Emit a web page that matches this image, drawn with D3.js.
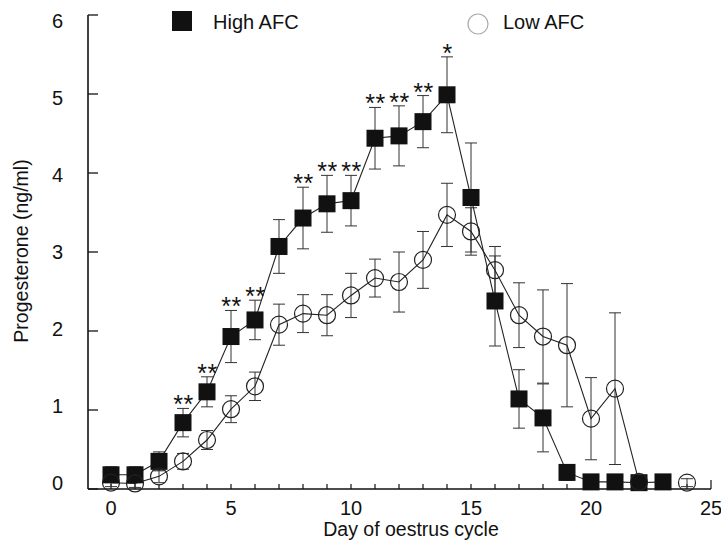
<!DOCTYPE html>
<html>
<head>
<meta charset="utf-8">
<script src="https://cdn.jsdelivr.net/npm/d3@7"></script>
<style>
	body { margin: 0; background: #fff; }
	text { font-family: "Liberation Sans", Arial, sans-serif; fill: #111; }
</style>
</head>
<body>
<svg id="chart" width="721" height="554"></svg>
<script>
// data (mean +/- sem)
var highDays = [0,1,2,3,4,5,6,7,8,9,10,11,12,13,14,15,16,17,18,19,20,21,22,23];
var highMean = [0.18,0.18,0.35,0.84,1.23,1.93,2.14,3.07,3.43,3.61,3.65,4.44,4.47,4.65,4.99,3.69,2.38,1.14,0.9,0.21,0.09,0.09,0.08,0.09];
var highSem  = [0.1,0.1,0.12,0.18,0.19,0.33,0.25,0.34,0.39,0.36,0.32,0.39,0.38,0.33,0.48,0.69,0.57,0.37,0.43,0.1,0.05,0.05,0.05,0.05];

var lowDays = [0,1,2,3,4,5,6,7,8,9,10,11,12,13,14,15,16,17,18,19,20,21,22,24];
var lowMean = [0.08,0.07,0.16,0.35,0.62,1.01,1.3,2.08,2.22,2.2,2.45,2.67,2.62,2.9,3.47,3.26,2.77,2.2,1.93,1.82,0.89,1.27,0.09,0.08];
var lowSem  = [0.05,0.05,0.08,0.1,0.12,0.17,0.18,0.26,0.24,0.26,0.28,0.24,0.38,0.36,0.4,0.3,0.3,0.41,0.59,0.78,0.52,0.96,0.05,0.05];

var sigDays  = [3,4,5,6,8,9,10,11,12,13,14];
var sigMarks = ['**','**','**','**','**','**','**','**','**','**','*'];

var xTicks = [0,5,10,15,20,25];
var yTicks = [0,1,2,3,4,5,6];

var high = highDays.map(function(d, i) { return {day: d, mean: highMean[i], sem: highSem[i]}; });
var low = lowDays.map(function(d, i) { return {day: d, mean: lowMean[i], sem: lowSem[i]}; });

var svg = d3.select('#chart');

var x = d3.scaleLinear().domain([0, 25]).range([111, 711]);
var y = d3.scaleLinear().domain([0, 6]).range([489, 15]);
var yLab = d3.scaleLinear().domain([0, 6]).range([483, 21]);
var AXIS_LEFT = 88;
var CAP = 6;

// axes
svg.append('line')
	.attr('x1', AXIS_LEFT).attr('x2', AXIS_LEFT)
	.attr('y1', y(6)).attr('y2', y(0))
	.style('stroke', '#111').style('stroke-width', 1.6);
svg.append('line')
	.attr('x1', AXIS_LEFT).attr('x2', x(25))
	.attr('y1', y(0)).attr('y2', y(0))
	.style('stroke', '#111').style('stroke-width', 1.6);

svg.selectAll('.ytick')
	.data(yTicks)
	.enter()
	.append('line')
	.attr('x1', AXIS_LEFT).attr('x2', AXIS_LEFT + 10)
	.attr('y1', function(v) { return y(v); })
	.attr('y2', function(v) { return y(v); })
	.style('stroke', '#111').style('stroke-width', 1.3);

svg.selectAll('.ylabel')
	.data(yTicks)
	.enter()
	.append('text')
	.attr('x', 63)
	.attr('y', function(v) { return yLab(v) + 7; })
	.attr('text-anchor', 'end')
	.style('font-size', '20px')
	.text(function(v) { return v; });

svg.selectAll('.xtick')
	.data(d3.range(0, 26))
	.enter()
	.append('line')
	.attr('x1', function(d) { return x(d); })
	.attr('x2', function(d) { return x(d); })
	.attr('y1', y(0))
	.attr('y2', function(d) { return d == 25 ? y(0) - 9 : y(0) - 5; })
	.style('stroke', '#111').style('stroke-width', 1.2);

svg.selectAll('.xlabel')
	.data(xTicks)
	.enter()
	.append('text')
	.attr('x', function(d) { return x(d); })
	.attr('y', 515)
	.attr('text-anchor', 'middle')
	.style('font-size', '20px')
	.text(function(d) { return d; });

svg.append('text')
	.attr('x', 411)
	.attr('y', 536)
	.attr('text-anchor', 'middle')
	.style('font-size', '19.5px')
	.text('Day of oestrus cycle');

svg.append('text')
	.attr('transform', 'translate(28,251) rotate(-90) scale(0.93,1)')
	.attr('text-anchor', 'middle')
	.style('font-size', '21px')
	.text('Progesterone (ng/ml)');

// error bars
function errorBars(data, cls) {
	var g = svg.append('g').attr('class', cls);
	g.selectAll('.v')
		.data(data)
		.enter()
		.append('line')
		.attr('x1', function(d) { return x(d.day); })
		.attr('x2', function(d) { return x(d.day); })
		.attr('y1', function(d) { return y(d.mean + d.sem); })
		.attr('y2', function(d) { return y(d.mean - d.sem); })
		.style('stroke', '#333').style('stroke-width', 1);
	[1, -1].forEach(function(s) {
		g.selectAll('.c' + s)
			.data(data)
			.enter()
			.append('line')
			.attr('x1', function(d) { return x(d.day) - CAP; })
			.attr('x2', function(d) { return x(d.day) + CAP; })
			.attr('y1', function(d) { return y(d.mean + s * d.sem); })
			.attr('y2', function(d) { return y(d.mean + s * d.sem); })
			.style('stroke', '#333').style('stroke-width', 1);
	});
}
errorBars(high, 'err-high');
errorBars(low, 'err-low');

var line = d3.line()
	.x(function(d) { return x(d.day); })
	.y(function(d) { return y(d.mean); });

svg.append('path').datum(high).attr('d', line)
	.style('fill', 'none').style('stroke', '#222').style('stroke-width', 1.1);
// low AFC line stops where a day is missing
svg.append('path').datum(low.filter(function(d) { return d.day <= 22; })).attr('d', line)
	.style('fill', 'none').style('stroke', '#222').style('stroke-width', 1.1);

// markers
svg.selectAll('.sq')
	.data(high)
	.enter()
	.append('rect')
	.attr('x', function(d) { return x(d.day) - 8.5; })
	.attr('y', function(d) { return y(d.mean) - 8.5; })
	.attr('width', 17)
	.attr('height', 17)
	.style('fill', '#111');

svg.selectAll('.circ')
	.data(low)
	.enter()
	.append('circle')
	.attr('cx', function(d) { return x(d.day); })
	.attr('cy', function(d) { return y(d.mean); })
	.attr('r', 8.5)
	.style('fill', 'none')
	.style('stroke', '#222')
	.style('stroke-width', 1.2);

// significance stars
svg.selectAll('.sig')
	.data(sigDays)
	.enter()
	.append('text')
	.attr('x', function(d) { return x(d) + 0.5; })
	.attr('y', function(d) { var p = high[highDays.indexOf(d)]; return y(p.mean + p.sem) + 5; })
	.attr('text-anchor', 'middle')
	.style('font-size', '25px')
	.style('letter-spacing', '0.5px')
	.text(function(d, i) { return sigMarks[i]; });

// legend
svg.append('rect')
	.attr('x', 172).attr('y', 11)
	.attr('width', 20).attr('height', 20)
	.style('fill', '#111');
svg.append('text')
	.attr('x', 213).attr('y', 29)
	.style('font-size', '20px')
	.text('High AFC');
svg.append('circle')
	.attr('cx', 478).attr('cy', 24).attr('r', 10)
	.style('fill', 'none')
	.style('stroke', '#aaa')
	.style('stroke-width', 1.2);
svg.append('text')
	.attr('x', 503).attr('y', 29)
	.style('font-size', '20px')
	.text('Low AFC');
</script>
</body>
</html>
